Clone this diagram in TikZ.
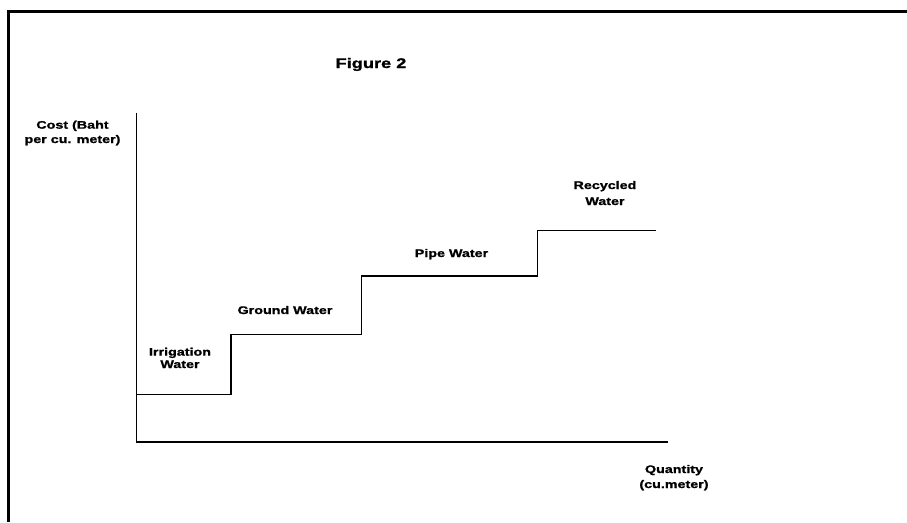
\documentclass[tikz,border=0pt]{standalone}
\usepackage{fontspec}
\setmainfont{Liberation Sans}[FakeStretch=1.3, BoldFeatures={FakeBold=1.2}]
\begin{document}
\begin{tikzpicture}[x=0.75pt,y=-0.75pt,
  lbl/.style={font=\bfseries\fontsize{8.25}{8.25}\selectfont, align=center, anchor=base, inner sep=0pt},
  ttl/.style={font=\bfseries\fontsize{10.5}{10.5}\selectfont, anchor=base, inner sep=0pt},
  frame/.style={line width=2.3pt},
  axis/.style={line width=1pt},
  stepline/.style={line width=1pt, line join=miter}]
\useasboundingbox (0,0) rectangle (907,522);
% frame
\coordinate (ftl) at (8.3,11.3);
\coordinate (ftr) at (907,11.3);
\coordinate (fbl) at (8.3,522);
\draw[frame] (ftr) -- (ftl) -- (fbl);
% axes
\coordinate (ytop) at (136.7,112.7);
\coordinate (orig) at (136.7,442);
\coordinate (xend) at (668,442);
\draw[axis] (ytop) -- (orig) -- (xend);
% step function
\coordinate (s0) at (136.7,394.3);
\coordinate (s1) at (231,394.3);
\coordinate (s2) at (231,334.3);
\coordinate (s3) at (361.3,334.3);
\coordinate (s4) at (361.3,276);
\coordinate (s5) at (537.3,276);
\coordinate (s6) at (537.3,230.7);
\coordinate (s7) at (656,230.7);
\draw[stepline] (s0) -- (s1) -- (s2) -- (s3) -- (s4) -- (s5) -- (s6) -- (s7);
% labels (base anchor = baseline of the last line)
\node[ttl] (title) at (371,68) {Figure 2};
\node[lbl] (ylab) at (72.5,143) {Cost (Baht\\[2.5pt]per cu. meter)};
\node[lbl] (irr) at (180,368) {Irrigation\\[1pt]Water};
\node[lbl] (gw) at (285,314) {Ground Water};
\node[lbl] (pw) at (451.5,257) {Pipe Water};
\node[lbl] (rw) at (605,205) {Recycled\\[3.75pt]Water};
\node[lbl] (xlab) at (674,488) {Quantity\\[3pt](cu.meter)};
\end{tikzpicture}
\end{document}
